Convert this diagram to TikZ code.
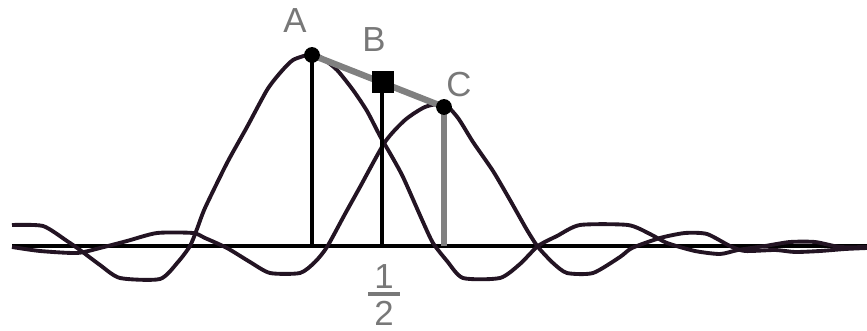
\documentclass[tikz,border=0pt]{standalone}
\usepackage{fontspec}
\setmainfont{Liberation Sans}
\definecolor{curveink}{RGB}{35,20,35}
\definecolor{markgray}{RGB}{128,128,128}
\definecolor{textgray}{RGB}{120,120,120}
\begin{document}
\begin{tikzpicture}[
  x=0.02cm, y=-0.02cm,
  every node/.style={inner sep=0pt},
  dot/.style={circle, fill=black, minimum size=9pt},
  sqmark/.style={rectangle, fill=black, minimum size=12.5pt},
  curve/.style={draw=curveink, line width=2.2pt, line join=round},
  axis/.style={draw=black, line width=2pt},
  drop/.style={draw=black, line width=2pt},
  graydrop/.style={draw=markgray, line width=3.6pt},
  fracbar/.style={draw=textgray, line width=2.6pt},
  lbl/.style={text=textgray, font=\fontsize{19.8}{22}\selectfont}]

  \useasboundingbox (0,0) rectangle (867,331);

  % ---- base line ----------------------------------------------------------
  \coordinate (L) at (12,246);
  \coordinate (R) at (867,246);
  \draw[axis] (L) -- (R);

  % ---- the two curves -----------------------------------------------------
  % tall curve, peak at A
  \draw[curve] plot[smooth, tension=0.4] coordinates {
    (12,225) (43,226) (67,241) (80,250) (100,265) (120,278) (160,279)
    (178,262) (190,246) (197,229) (205,208) (227,163) (247,127) (267,90)
    (280,73) (293,60) (312,54) (322,58) (337,70) (353,90) (367,111)
    (380,136) (391,155) (403,177) (423,222) (433,243) (447,261) (463,278)
    (500,278) (520,264) (538,246) (557,236) (580,225) (628,225) (650,234)
    (667,243) (695,251) (720,254) (738,250) (765,246) (790,242) (815,242)
    (840,247) (867,247)};
  % lower curve, peak at C
  \draw[curve] plot[smooth, tension=0.4] coordinates {
    (12,247) (40,251) (77,253) (100,248) (127,241) (157,233) (193,233)
    (205,238) (227,248) (250,262) (270,273) (300,273) (315,262) (327,247)
    (345,214) (360,187) (385,142) (405,120) (425,107) (444,104) (458,118)
    (473,142) (493,171) (510,200) (527,230) (538,247) (553,263) (567,273)
    (593,273) (620,257) (632,248) (660,238) (685,233) (707,234) (730,246)
    (745,251) (775,250) (795,252) (820,251) (845,249) (867,248)};

  % ---- points and drops ---------------------------------------------------
  \coordinate (A0) at (312,246);
  \coordinate (B0) at (382,246);
  \coordinate (C0) at (444,246);
  \coordinate (Ap) at (312,55);
  \coordinate (Cp) at (444,107);
  \draw[drop] (Ap) -- (A0);
  \draw[drop] (382,82) -- (B0);
  \draw[graydrop] (Cp) -- (C0);
  \draw[graydrop] (Ap) -- (Cp);

  \node[dot]    (A) at (Ap) {};
  \node[sqmark] (B) at (383,82) {};
  \node[dot]    (C) at (Cp) {};

  % ---- labels -------------------------------------------------------------
  \node[lbl] (labA) at (295,21) {A};
  \node[lbl] (labB) at (374,40) {B};
  \node[lbl] (labC) at (459,85) {C};
  % one half, under B
  \node[lbl] (num) at (384,277) {1};
  \node[lbl] (den) at (384,313) {2};
  \coordinate (barL) at (368,294);
  \coordinate (barR) at (400,294);
  \draw[fracbar] (barL) -- (barR);
\end{tikzpicture}
\end{document}
